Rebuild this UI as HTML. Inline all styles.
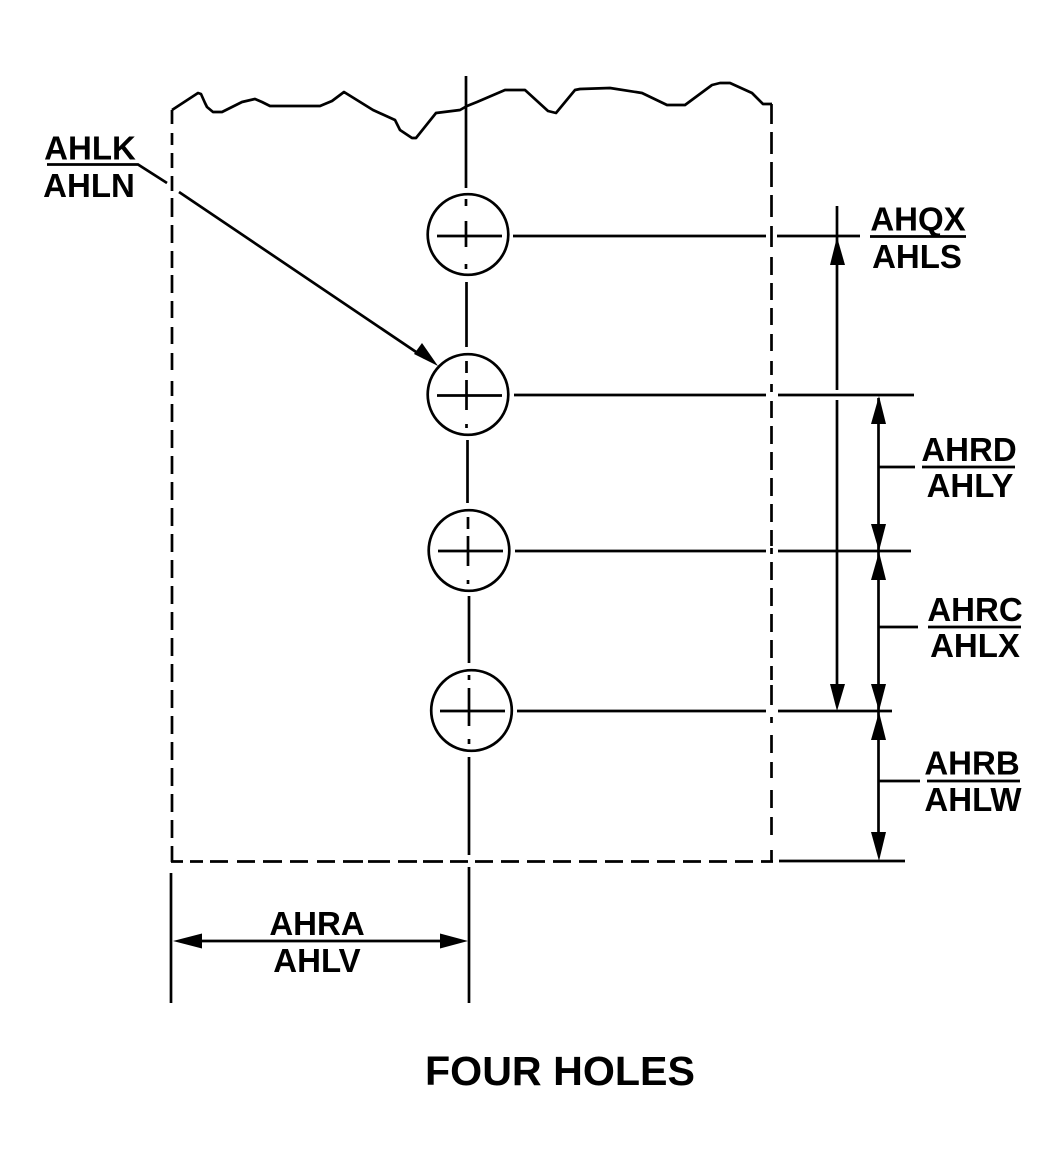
<!DOCTYPE html>
<html>
<head>
<meta charset="utf-8">
<style>
html,body{margin:0;padding:0;background:#fff;width:1060px;height:1168px;overflow:hidden}
svg{display:block}
text{font-family:"Liberation Sans",sans-serif;font-weight:bold;fill:#000}
</style>
</head>
<body>
<svg width="1060" height="1168" viewBox="0 0 1060 1168" xmlns="http://www.w3.org/2000/svg">
<g fill="none" stroke="#000" stroke-width="2.7">
<!-- break line -->
<path stroke-linejoin="round" d="M172 110 L198 93 L201 94 L205 103 L207 107 L213 112 L222 112 L232 107 L242 102 L255 99 L262 102 L270 106 L320 106 L332 101 L344 92 L373 110 L395 120 L400 130 L412 138 L416 138 L436 113 L460 110 L467 106 L477 102 L505 90 L525 90 L548 111 L556 113 L575 90 L580 89 L610 88 L642 93 L667 105 L685 105 L712 85 L720 83 L730 83 L752 93 L763 104 L772 104"/>
<!-- dashed left -->
<path d="M172 110 V124 M172 133 V145 M172 153 V168 M172 176 V191 M172 198 V217 M172 225 V243 M172 251 V268 M172 275 V293 M172 301 V318 M172 327 V344 M172 353 V370 M172 381 V396 M172 404 V422 M172 430 V448 M172 456 V474 M172 482 V500 M172 508 V526 M172 534 V552 M172 560 V578 M172 586 V604 M172 612 V630 M172 638 V656 M172 664 V682 M172 690 V708 M172 716 V734 M172 742 V760 M172 768 V786 M172 794 V812 M172 820 V838 M172 846 V862"/>
<!-- dashed bottom -->
<path d="M171 861.5 H183 M190 861.5 H203 M210 861.5 H228 M237 861.5 H255 M263 861.5 H282 M290 861.5 H308 M317 861.5 H335 M343 861.5 H363 M368 861.5 H390 M398 861.5 H417 M423 861.5 H443 M450 861.5 H468 M475 861.5 H493 M501 861.5 H519 M527 861.5 H545 M553 861.5 H571 M579 861.5 H597 M605 861.5 H623 M631 861.5 H649 M657 861.5 H675 M683 861.5 H701 M709 861.5 H727 M735 861.5 H753 M761 861.5 H773"/>
<!-- dashed right -->
<path d="M771.5 104 V124 M771.5 132 V154 M771.5 162 V187 M771.5 195 V217 M771.5 226 V247 M771.5 257 V275 M771.5 283 V300 M771.5 308 V325 M771.5 334 V351 M771.5 361 V375 M771.5 384 V392 M771.5 401 V418 M771.5 426 V444 M771.5 452 V470 M771.5 478 V496 M771.5 504 V522 M771.5 530 V546 M771.5 548 V554 M771.5 562 V580 M771.5 588 V606 M771.5 614 V632 M771.5 640 V658 M771.5 666 V680 M771.5 685 V705 M771.5 717 V723 M771.5 735 V753 M771.5 762 V778 M771.5 790 V808 M771.5 817 V835 M771.5 850 V862"/>
<!-- center line -->
<path d="M466 76 V188 M466 199 V206 M466 221 V247 M466 264 V269"/>
<path d="M466.5 282 V347 M466.5 361 V373 M466.5 380 V410 M466.5 424 V428"/>
<path d="M467.5 440 V503"/>
<path d="M468 517 V529 M468 536 V566 M468 580 V584"/>
<path d="M469 596 V663 M469 675 V680 M469 688 V726 M469 739 V744 M469 757 V855 M469 867 V1003"/>
<!-- holes -->
<circle cx="468" cy="234.5" r="40.3"/>
<circle cx="468" cy="394.5" r="40.3"/>
<circle cx="469" cy="550.5" r="40.3"/>
<circle cx="471.5" cy="710.5" r="40.3"/>
<!-- cross lines -->
<path d="M437 236 H502 M437 395.5 H502 M438 551 H503 M440 711 H505"/>
<!-- extension lines -->
<path d="M513 236 H766 M777 236 H860"/>
<path d="M514 395 H766 M778 395 H914"/>
<path d="M515 551 H766 M778 551 H911"/>
<path d="M517 711 H766 M778 711 H892"/>
<path d="M779 861 H905"/>
<path d="M171 873 V1003"/>
<!-- leader -->
<path d="M47 164.5 H138 L167 183 M179 192 L425 358"/>
<!-- dimensions -->
<path d="M837 206 V390 M837 400 V690"/>
<path d="M878.5 398 V840"/>
<path d="M190 941 H450"/>
<!-- label lines -->
<path d="M870 236.5 H966"/>
<path d="M879 467 H915 M922 467 H1015"/>
<path d="M879 627 H918 M928 627 H1021"/>
<path d="M879 781 H920 M927 781 H1020"/>
</g>
<g fill="#000">
<polygon points="438,366 414,354 422,343"/>
<polygon points="837,237 830,265 845,265"/>
<polygon points="837,711 830,684 845,684"/>
<polygon points="879,396 871,424 886,424"/>
<polygon points="879,551 871,524 886,524"/>
<polygon points="879,552 871,580 886,580"/>
<polygon points="879,711 871,684 886,684"/>
<polygon points="879,712 871,740 886,740"/>
<polygon points="879,861 871,832 886,832"/>
<polygon points="173,941 202,933.5 202,948.5"/>
<polygon points="468,941 440,933.5 440,948.5"/>
</g>
<g font-size="33" text-anchor="middle">
<text x="90" y="159.5">AHLK</text>
<text x="89" y="197">AHLN</text>
<text x="918" y="230.5">AHQX</text>
<text x="917" y="268">AHLS</text>
<text x="969" y="461">AHRD</text>
<text x="970" y="497">AHLY</text>
<text x="975" y="621">AHRC</text>
<text x="975" y="657">AHLX</text>
<text x="972" y="774.5">AHRB</text>
<text x="973" y="811">AHLW</text>
<text x="317" y="935">AHRA</text>
<text x="317" y="972">AHLV</text>
</g>
<text x="560" y="1085" font-size="41" text-anchor="middle" textLength="270" lengthAdjust="spacingAndGlyphs">FOUR HOLES</text>
</svg>
</body>
</html>
